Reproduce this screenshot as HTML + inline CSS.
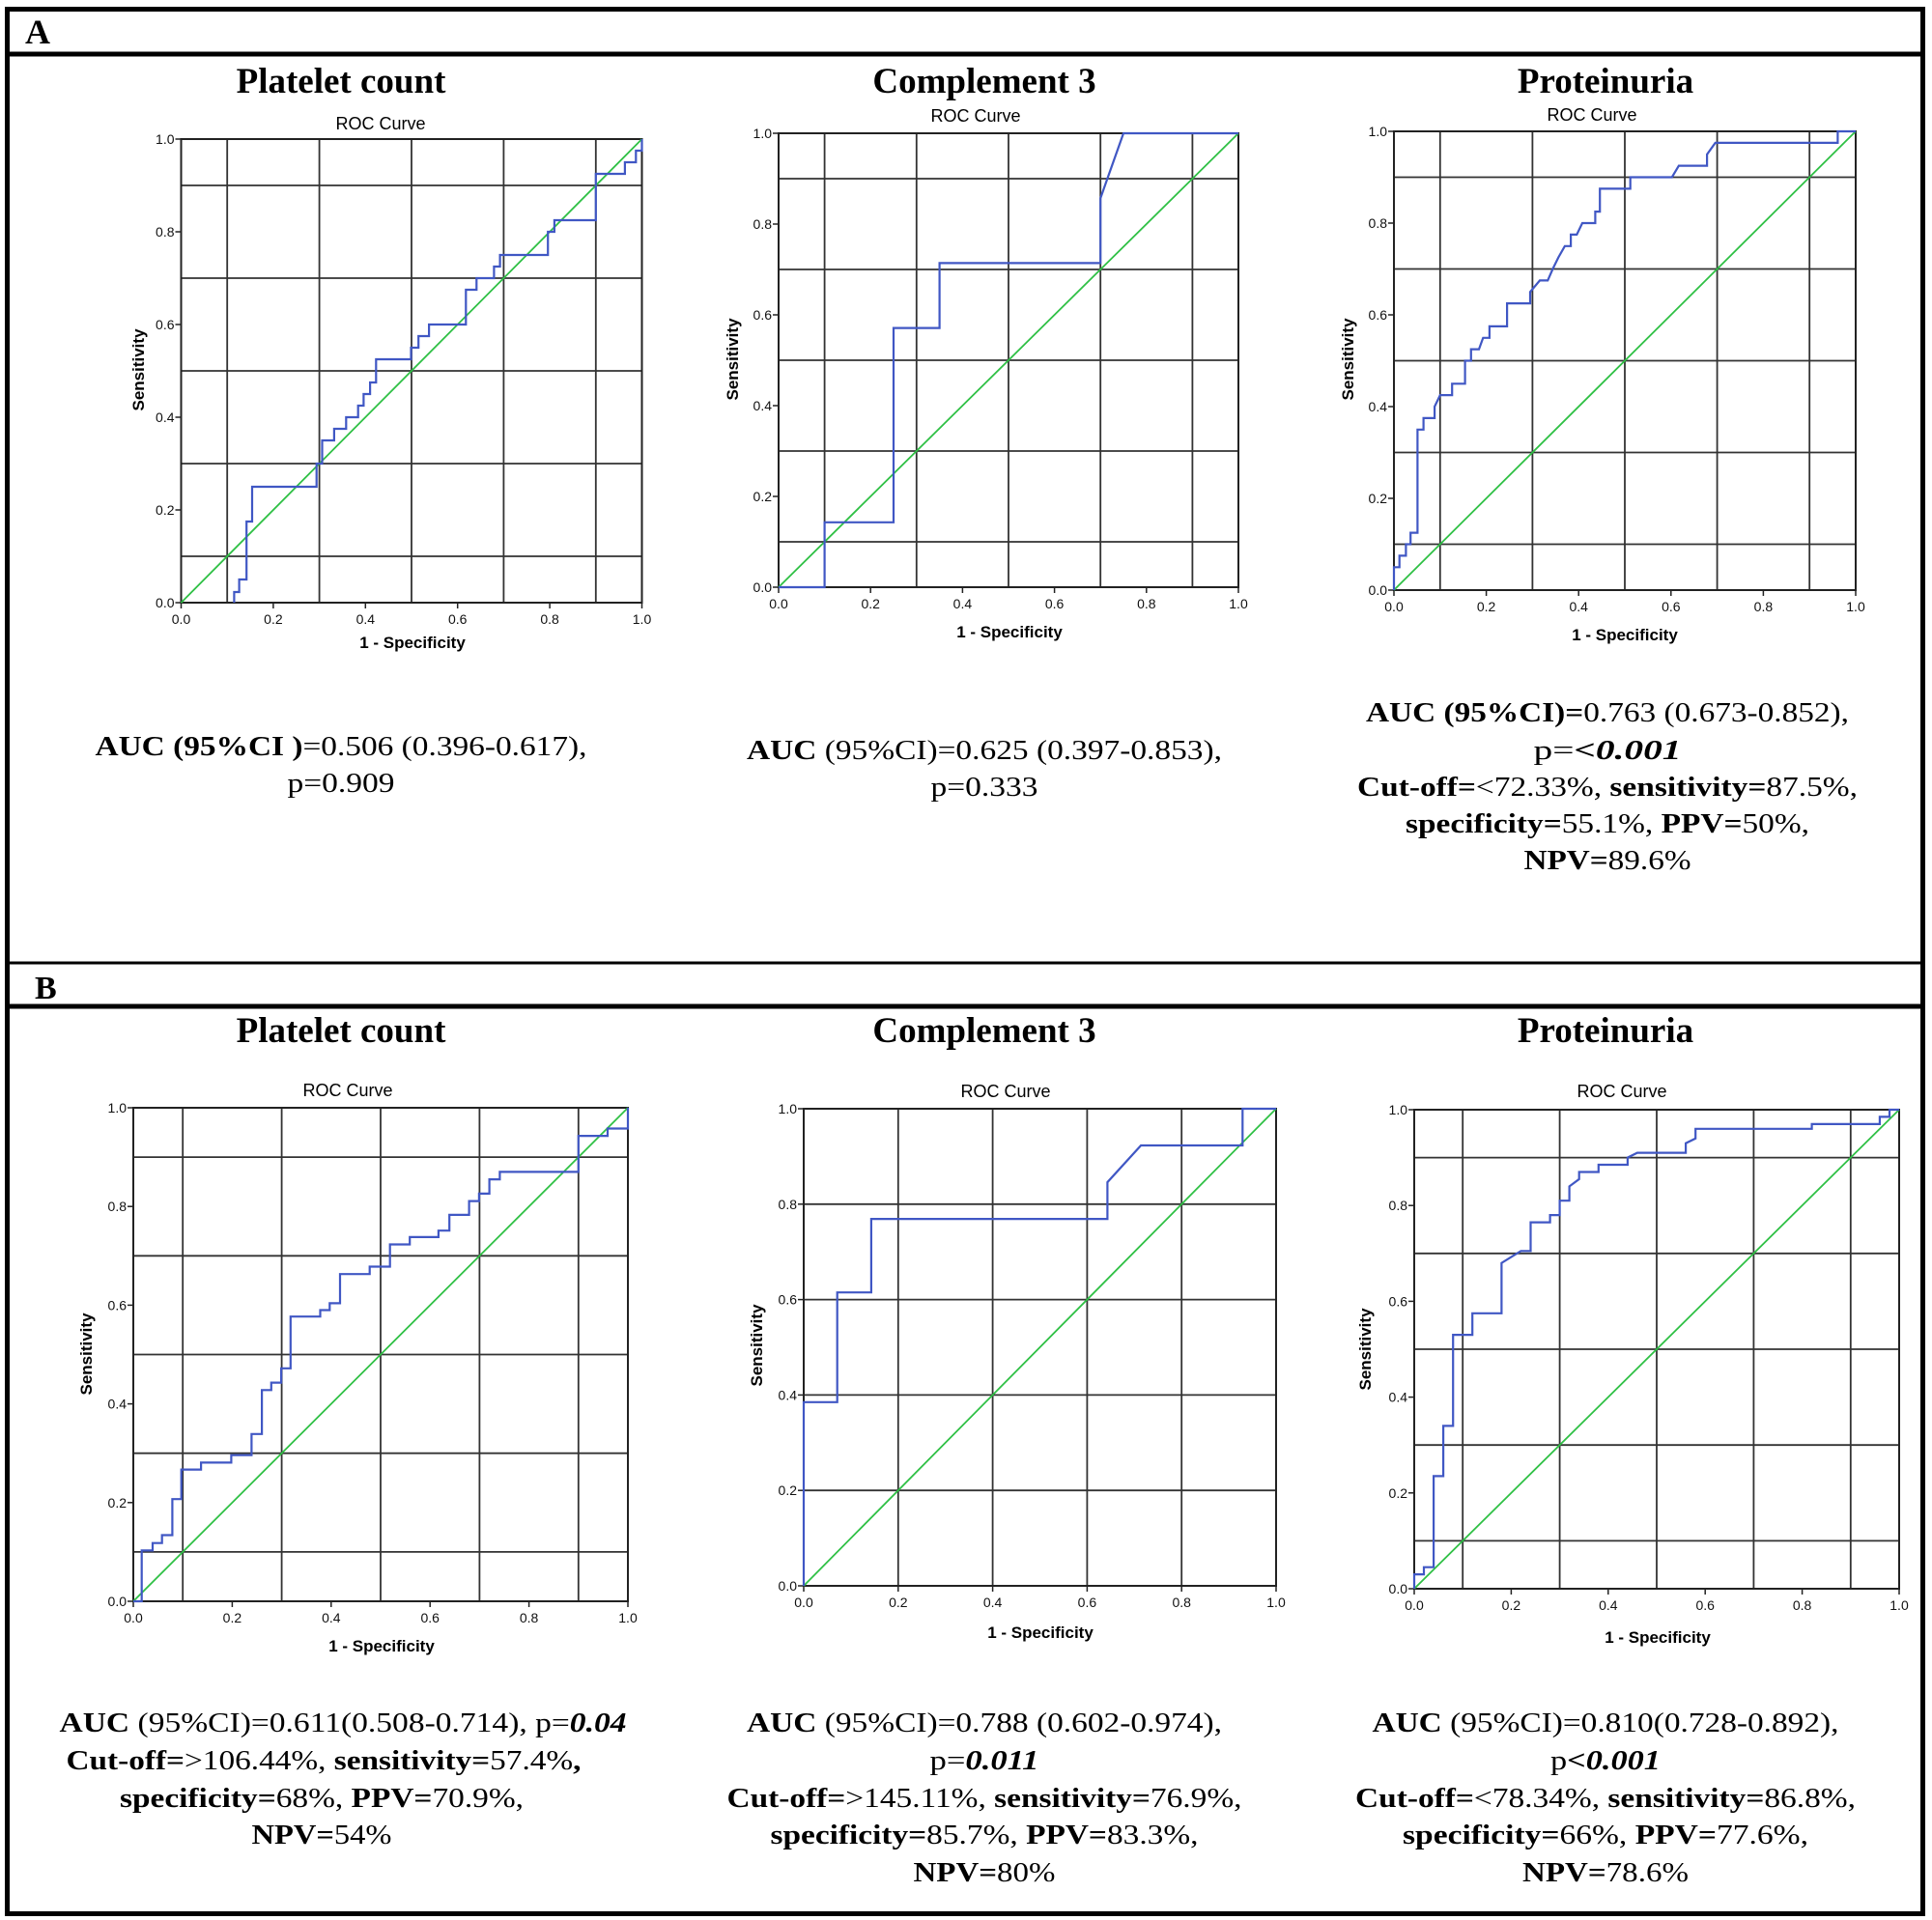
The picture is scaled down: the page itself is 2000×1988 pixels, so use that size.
<!DOCTYPE html>
<html><head><meta charset="utf-8"><style>
html,body{margin:0;padding:0;background:#fff}
svg{display:block}
.serif{font-family:"Liberation Serif",serif}
.sans{font-family:"Liberation Sans",sans-serif}
</style></head><body>
<svg id="fig" width="2000" height="1988" viewBox="0 0 2000 1988" xmlns="http://www.w3.org/2000/svg">
<rect x="0" y="0" width="2000" height="1988" fill="#fff"/>
<rect x="7.5" y="9.5" width="1983" height="1972" fill="none" stroke="#000" stroke-width="5"/>
<line x1="5" y1="56" x2="1993" y2="56" stroke="#000" stroke-width="5"/>
<line x1="5" y1="997" x2="1993" y2="997" stroke="#000" stroke-width="3"/>
<line x1="5" y1="1042" x2="1993" y2="1042" stroke="#000" stroke-width="5"/>
<text x="26" y="45" class="serif" font-size="36" font-weight="bold">A</text>
<text x="36" y="1034" class="serif" font-size="34" font-weight="bold">B</text>
<g id="plots"></g>
</svg>
<script>
// ---- data (FPR = 1-specificity, TPR = sensitivity) ----
const a1Fpr = [0.115,0.115,0.126,0.126,0.142,0.142,0.154,0.154,0.294,0.294,0.306,0.306,0.332,0.332,0.358,0.358,0.384,0.384,0.396,0.396,0.41,0.41,0.423,0.423,0.499,0.499,0.515,0.515,0.538,0.538,0.618,0.618,0.641,0.641,0.679,0.679,0.692,0.692,0.796,0.796,0.81,0.81,0.90,0.90,0.963,0.963,0.987,0.987,1,1];
const a1Tpr = [0,0.023,0.023,0.05,0.05,0.175,0.175,0.25,0.25,0.30,0.30,0.35,0.35,0.375,0.375,0.40,0.40,0.425,0.425,0.45,0.45,0.475,0.475,0.525,0.525,0.55,0.55,0.575,0.575,0.60,0.60,0.675,0.675,0.70,0.70,0.725,0.725,0.75,0.75,0.80,0.80,0.825,0.825,0.925,0.925,0.95,0.95,0.975,0.975,1];
const a2Fpr = [0,0.1,0.1,0.25,0.25,0.35,0.35,0.70,0.70,0.75,1];
const a2Tpr = [0,0,0.143,0.143,0.571,0.571,0.714,0.714,0.857,1,1];
const a3Fpr = [0,0,0.012,0.012,0.026,0.026,0.036,0.036,0.051,0.051,0.064,0.064,0.088,0.088,0.1,0.126,0.126,0.154,0.154,0.167,0.167,0.184,0.193,0.207,0.207,0.245,0.245,0.295,0.295,0.316,0.333,0.344,0.356,0.37,0.383,0.383,0.396,0.408,0.436,0.436,0.446,0.446,0.512,0.512,0.602,0.617,0.678,0.678,0.696,0.961,0.961,1];
const a3Tpr = [0,0.05,0.05,0.075,0.075,0.10,0.10,0.125,0.125,0.35,0.35,0.375,0.375,0.40,0.425,0.425,0.45,0.45,0.50,0.50,0.525,0.525,0.55,0.55,0.575,0.575,0.625,0.625,0.65,0.675,0.675,0.70,0.725,0.75,0.75,0.775,0.775,0.80,0.80,0.825,0.825,0.875,0.875,0.90,0.90,0.925,0.925,0.95,0.975,0.975,1,1];
const b1Fpr = [0,0.017,0.017,0.039,0.039,0.058,0.058,0.079,0.079,0.097,0.097,0.137,0.137,0.198,0.198,0.239,0.239,0.26,0.26,0.279,0.279,0.299,0.299,0.318,0.318,0.378,0.378,0.397,0.397,0.418,0.418,0.478,0.478,0.519,0.519,0.559,0.559,0.617,0.617,0.639,0.639,0.679,0.679,0.699,0.699,0.72,0.72,0.741,0.741,0.9,0.9,0.959,0.959,1,1];
const b1Tpr = [0,0,0.103,0.103,0.118,0.118,0.134,0.134,0.207,0.207,0.267,0.267,0.281,0.281,0.296,0.296,0.339,0.339,0.428,0.428,0.443,0.443,0.472,0.472,0.577,0.577,0.59,0.59,0.604,0.604,0.663,0.663,0.678,0.678,0.723,0.723,0.738,0.738,0.751,0.751,0.783,0.783,0.811,0.811,0.826,0.826,0.855,0.855,0.87,0.87,0.943,0.943,0.958,0.958,1];
const b2Fpr = [0,0,0.071,0.071,0.143,0.143,0.643,0.643,0.714,0.929,0.929,1];
const b2Tpr = [0,0.385,0.385,0.615,0.615,0.769,0.769,0.846,0.923,0.923,1,1];
const b3Fpr = [0,0,0.02,0.02,0.04,0.04,0.06,0.06,0.08,0.08,0.12,0.12,0.18,0.18,0.22,0.24,0.24,0.28,0.28,0.30,0.30,0.32,0.32,0.34,0.34,0.38,0.38,0.44,0.44,0.46,0.56,0.56,0.58,0.58,0.82,0.82,0.96,0.96,0.98,0.98,1];
const b3Tpr = [0,0.03,0.03,0.045,0.045,0.235,0.235,0.34,0.34,0.53,0.53,0.575,0.575,0.68,0.705,0.705,0.765,0.765,0.78,0.78,0.81,0.81,0.84,0.855,0.87,0.87,0.885,0.885,0.90,0.91,0.91,0.93,0.94,0.96,0.96,0.97,0.97,0.985,0.985,1,1];
const tickLabels = ["0.0","0.2","0.4","0.6","0.8","1.0"];
const tickValues = [0,0.2,0.4,0.6,0.8,1];
const gridOdd = [0.1,0.3,0.5,0.7,0.9];
const gridEven = [0.2,0.4,0.6,0.8];

const NS="http://www.w3.org/2000/svg";
const root=document.getElementById('plots');
function mk(tag,attrs,parent){const e=document.createElementNS(NS,tag);for(const k in attrs)e.setAttribute(k,attrs[k]);(parent||root).appendChild(e);return e;}

const panels=[
 {id:'a1',title:'Platelet count',tx:353,ty:95,box:[187.5,144,664.5,624],roc:[394,134],xt:[427,671],yt:[143,383],fpr:a1Fpr,tpr:a1Tpr,grid:gridOdd},
 {id:'a2',title:'Complement 3',tx:1019,ty:95,box:[806,138,1282,608],roc:[1010,126],xt:[1045,660],yt:[758,372],fpr:a2Fpr,tpr:a2Tpr,grid:gridOdd},
 {id:'a3',title:'Proteinuria',tx:1662,ty:95,box:[1443,136,1921,611],roc:[1648,125],xt:[1682,663],yt:[1395,372],fpr:a3Fpr,tpr:a3Tpr,grid:gridOdd},
 {id:'b1',title:'Platelet count',tx:353,ty:1078,box:[138,1147,650,1658],roc:[360,1135],xt:[395,1710],yt:[89,1402],fpr:b1Fpr,tpr:b1Tpr,grid:gridOdd},
 {id:'b2',title:'Complement 3',tx:1019,ty:1078,box:[832,1148,1321,1642],roc:[1041,1136],xt:[1077,1696],yt:[783,1393],fpr:b2Fpr,tpr:b2Tpr,grid:gridEven},
 {id:'b3',title:'Proteinuria',tx:1662,ty:1078,box:[1464,1149,1966,1645],roc:[1679,1136],xt:[1716,1701],yt:[1413,1397],fpr:b3Fpr,tpr:b3Tpr,grid:gridOdd}
];

panels.forEach(p=>{
  const g=mk('g',{});
  
  
  const [x0,y0,x1,y1]=p.box;
  const sx=v=>x0+v*(x1-x0), sy=v=>y1-v*(y1-y0);
  const t=mk('text',{x:p.tx,y:p.ty+1,'text-anchor':'middle','font-size':37,'font-weight':'bold',class:'serif'},g);t.textContent=p.title;
  
  
  const r=mk('text',{x:p.roc[0],y:p.roc[1],'text-anchor':'middle','font-size':18,class:'sans'},g);r.textContent='ROC Curve';
  
  
  p.grid.forEach(v=>{
    const lv=mk('line',{x1:sx(v),x2:sx(v),y1:y0,y2:y1,stroke:'#333',"stroke-width":1.8},g);
    
    
    const lh=mk('line',{x1:x0,x2:x1,y1:sy(v),y2:sy(v),stroke:'#333',"stroke-width":1.8},g);
    
    
  });
  const fr=mk('rect',{x:x0,y:y0,width:x1-x0,height:y1-y0,fill:'none',stroke:'#222','stroke-width':2},g);
  
  
  tickValues.forEach((v,i)=>{
    mk('line',{x1:x0-6,x2:x0,y1:sy(v),y2:sy(v),stroke:'#222','stroke-width':1.5},g);
    mk('line',{x1:sx(v),x2:sx(v),y1:y1,y2:y1+6,stroke:'#222','stroke-width':1.5},g);
    const yl=mk('text',{x:x0-7,y:sy(v)+5,'text-anchor':'end','font-size':14,class:'sans',fill:'#111'},g);yl.textContent=tickLabels[i];
    
    
    const xl=mk('text',{x:sx(v),y:y1+22,'text-anchor':'middle','font-size':14,class:'sans',fill:'#111'},g);xl.textContent=tickLabels[i];
    
    
  });
  const dg=mk('line',{x1:sx(0),y1:sy(0),x2:sx(1),y2:sy(1),stroke:'#2fc045','stroke-width':1.8},g);
  
  
  let d='';
  p.fpr.forEach((f,i)=>{d+=(i?'L':'M')+sx(f).toFixed(1)+' '+sy(p.tpr[i]).toFixed(1);});
  const cv=mk('path',{d:d,fill:'none',stroke:'#4057c4','stroke-width':2.2},g);
  
  
  const xt=mk('text',{x:p.xt[0],y:p.xt[1],'text-anchor':'middle','font-size':17,'font-weight':'bold',class:'sans'},g);xt.textContent='1 - Specificity';
  
  
  const yt=mk('text',{x:0,y:0,'text-anchor':'middle','font-size':17,'font-weight':'bold',class:'sans',transform:`translate(${p.yt[0]+6},${p.yt[1]}) rotate(-90)`},g);yt.textContent='Sensitivity';
  
  
});

const B='font-weight="bold"', BI='font-weight="bold" font-style="italic"';
const stats=[
 [353,782,509,`<tspan ${B}>AUC (95%CI )</tspan>=0.506 (0.396-0.617),`],
 [353,820,111,`p=0.909`],
 [1019,786,492,`<tspan ${B}>AUC</tspan> (95%CI)=0.625 (0.397-0.853),`],
 [1019,824,111,`p=0.333`],
 [1664,747,500,`<tspan ${B}>AUC (95%CI)=</tspan>0.763 (0.673-0.852),`],
 [1664,786,153,`p=<tspan ${BI}>&lt;0.001</tspan>`],
 [1664,824,518,`<tspan ${B}>Cut-off=</tspan>&lt;72.33%, <tspan ${B}>sensitivity=</tspan>87.5%,`],
 [1664,862,418,`<tspan ${B}>specificity=</tspan>55.1%, <tspan ${B}>PPV=</tspan>50%,`],
 [1664,900,173,`<tspan ${B}>NPV=</tspan>89.6%`],
 [355,1793,587,`<tspan ${B}>AUC</tspan> (95%CI)=0.611(0.508-0.714), p=<tspan ${BI}>0.04</tspan>`],
 [335,1832,533,`<tspan ${B}>Cut-off=</tspan>&gt;106.44%, <tspan ${B}>sensitivity=</tspan>57.4%<tspan ${B}>,</tspan>`],
 [333,1871,418,`<tspan ${B}>specificity=</tspan>68%, <tspan ${B}>PPV=</tspan>70.9%,`],
 [333,1909,145,`<tspan ${B}>NPV=</tspan>54%`],
 [1019,1793,492,`<tspan ${B}>AUC</tspan> (95%CI)=0.788 (0.602-0.974),`],
 [1019,1832,113,`p=<tspan ${BI}>0.011</tspan>`],
 [1019,1871,533,`<tspan ${B}>Cut-off=</tspan>&gt;145.11%, <tspan ${B}>sensitivity=</tspan>76.9%,`],
 [1019,1909,443,`<tspan ${B}>specificity=</tspan>85.7%, <tspan ${B}>PPV=</tspan>83.3%,`],
 [1019,1948,147,`<tspan ${B}>NPV=</tspan>80%`],
 [1662,1793,483,`<tspan ${B}>AUC</tspan> (95%CI)=0.810(0.728-0.892),`],
 [1662,1832,114,`p<tspan ${BI}>&lt;0.001</tspan>`],
 [1662,1871,518,`<tspan ${B}>Cut-off=</tspan>&lt;78.34%, <tspan ${B}>sensitivity=</tspan>86.8%,`],
 [1662,1909,420,`<tspan ${B}>specificity=</tspan>66%, <tspan ${B}>PPV=</tspan>77.6%,`],
 [1662,1948,172,`<tspan ${B}>NPV=</tspan>78.6%`]
];
stats.forEach(s=>{
  const t=mk('text',{x:s[0],y:s[1],'text-anchor':'middle','font-size':29,class:'serif',textLength:s[2],lengthAdjust:'spacingAndGlyphs'});
  t.innerHTML=s[3];
  
  
});
</script>
</body></html>
